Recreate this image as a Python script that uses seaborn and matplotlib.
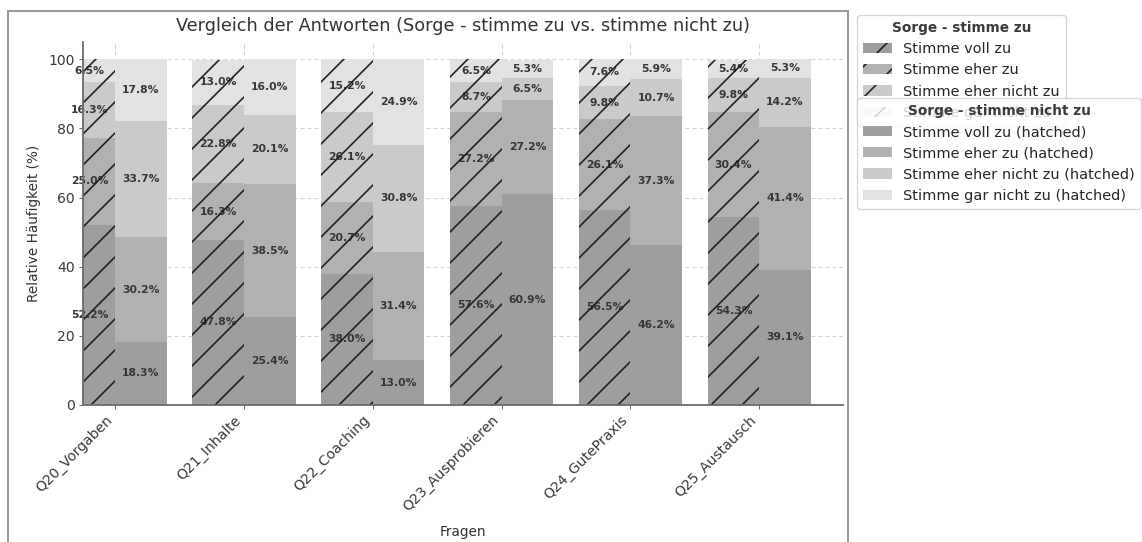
import numpy as np
import pandas as pd
import matplotlib.pyplot as plt
import seaborn as sns
from matplotlib.patches import Patch, Rectangle

# Daten (Prozent), Reihenfolge der Fragen wie in fragen
fragen = ['Q20_Vorgaben', 'Q21_Inhalte', 'Q22_Coaching',
          'Q23_Ausprobieren', 'Q24_GutePraxis', 'Q25_Austausch']
antworten = ['Stimme voll zu', 'Stimme eher zu', 'Stimme eher nicht zu', 'Stimme gar nicht zu']
gruppen = ['Sorge - stimme zu', 'Sorge - stimme nicht zu']

# Sorge - stimme zu (schraffiert)
zu_voll = [52.2, 47.8, 38.0, 57.6, 56.5, 54.3]
zu_eher = [25.0, 16.3, 20.7, 27.2, 26.1, 30.4]
zu_eher_nicht = [16.3, 22.8, 26.1, 8.7, 9.8, 9.8]
zu_gar_nicht = [6.5, 13.0, 15.2, 6.5, 7.6, 5.4]

# Sorge - stimme nicht zu
nicht_voll = [18.3, 25.4, 13.0, 60.9, 46.2, 39.1]
nicht_eher = [30.2, 38.5, 31.4, 27.2, 37.3, 41.4]
nicht_eher_nicht = [33.7, 20.1, 30.8, 6.5, 10.7, 14.2]
nicht_gar_nicht = [17.8, 16.0, 24.9, 5.3, 5.9, 5.3]

grays = ['#9e9e9e', '#b1b1b1', '#cacaca', '#e2e2e2']

# dpi so gewaehlt, dass der Abstand der Schraffur passt
DPI = 93
def pt(px):
    return px * 72 / DPI

rows = []
for gruppe, serien in [(gruppen[0], [zu_voll, zu_eher, zu_eher_nicht, zu_gar_nicht]),
                       (gruppen[1], [nicht_voll, nicht_eher, nicht_eher_nicht, nicht_gar_nicht])]:
    for i, frage in enumerate(fragen):
        kum = 0
        for k, antwort in enumerate(antworten):
            wert = serien[k][i]
            kum += wert
            rows.append(dict(Frage=frage, Gruppe=gruppe, Antwort=antwort, Wert=wert, Kum=kum))
df = pd.DataFrame(rows)

sns.set_theme(style='whitegrid')
plt.rcParams['font.family'] = ['DejaVu Sans']
plt.rcParams['hatch.linewidth'] = pt(1.6)

fig = plt.figure(figsize=(1142 / DPI, 542 / DPI), dpi=DPI)
ax = fig.add_axes([83 / 1142, 1 - 405 / 542, (843 - 83) / 1142, (405 - 42) / 542])

# gestapelte Balken: von der obersten Kumulation nach unten zeichnen
for k in reversed(range(len(antworten))):
    sub = df[df['Antwort'] == antworten[k]]
    sns.barplot(data=sub, x='Frage', y='Kum', hue='Gruppe', order=fragen, hue_order=gruppen,
                palette={g: grays[k] for g in gruppen}, saturation=1, width=0.8,
                errorbar=None, legend=False, ax=ax)
    for cont in ax.containers[-2:]:
        for bar in cont:
            bar.set_linewidth(0)
total_zu = ax.containers[0]  # gesamte Balken der Gruppe "Sorge - stimme zu"

# Beschriftungen der Segmente
for g, cont in zip(gruppen, ax.containers[-2:]):
    for i, frage in enumerate(fragen):
        bar = cont[i]
        xc = bar.get_x() + bar.get_width() / 2
        sel = df[(df['Gruppe'] == g) & (df['Frage'] == frage)]
        for _, r in sel.iterrows():
            ax.text(xc, r['Kum'] - r['Wert'] / 2, f"{r['Wert']:.1f}%", ha='center', va='center',
                    fontsize=pt(10.7), fontweight='bold', color='#363636')

# Schraffur liegt ueber den Beschriftungen
for bar in total_zu:
    ax.add_patch(Rectangle((bar.get_x(), bar.get_y()), bar.get_width(), bar.get_height(),
                           facecolor='none', edgecolor='#1e1e1e', linewidth=0, hatch='/', zorder=4))

ax.set_xlim(-0.25, 5.65)
ax.set_ylim(0, 105)
ax.set_yticks([0, 20, 40, 60, 80, 100])
ax.set_axisbelow(True)
ax.grid(True, linestyle=(0, (4, 3)), color='#d2d2d2', linewidth=pt(1.0))
for s in ['top', 'right']:
    ax.spines[s].set_visible(False)
for s in ['left', 'bottom']:
    ax.spines[s].set_color('#6a6a6a')
    ax.spines[s].set_linewidth(pt(1.8))
    ax.spines[s].set_zorder(5)
ax.tick_params(axis='both', length=pt(4), width=pt(1), color='#6a6a6a',
               labelsize=pt(14), labelcolor='#3a3a3a', pad=pt(4), bottom=True, left=True)
plt.setp(ax.get_xticklabels(), rotation=45, ha='right')

ax.set_title('Vergleich der Antworten (Sorge - stimme zu vs. stimme nicht zu)',
             fontsize=pt(17.6), color='#333333', pad=pt(11))
ax.set_xlabel('Fragen', fontsize=pt(13.6), color='#333333', labelpad=pt(11))
ax.set_ylabel('Relative Häufigkeit (%)', fontsize=pt(13.6), color='#333333', labelpad=pt(8))

# Rahmen der ursprünglichen Abbildung
fig.add_artist(Rectangle((8 / 1142, -0.2), (848 - 8) / 1142, 1.2 - 11 / 542, transform=fig.transFigure,
                         fill=False, edgecolor='#9a9a9a', linewidth=pt(2)))

h1 = [Patch(facecolor=grays[k], edgecolor='#1e1e1e', linewidth=0, hatch='/', label=antworten[k])
      for k in range(4)]
h2 = [Patch(facecolor=grays[k], linewidth=0, label=antworten[k] + ' (hatched)') for k in range(4)]
leg_kw = dict(loc='upper left', fontsize=pt(14.5), framealpha=0.8, edgecolor='#cccccc',
              borderaxespad=0, title_fontproperties={'size': pt(13.6), 'weight': 'bold'})
leg1 = fig.legend(handles=h1, title=gruppen[0], bbox_to_anchor=(857 / 1142, 1 - 15 / 542), **leg_kw)
leg2 = fig.legend(handles=h2, title=gruppen[1], bbox_to_anchor=(857 / 1142, 1 - 98 / 542), **leg_kw)
for leg in (leg1, leg2):
    leg.get_title().set_color('#3a3a3a')

fig.savefig('out.png', dpi=DPI)
